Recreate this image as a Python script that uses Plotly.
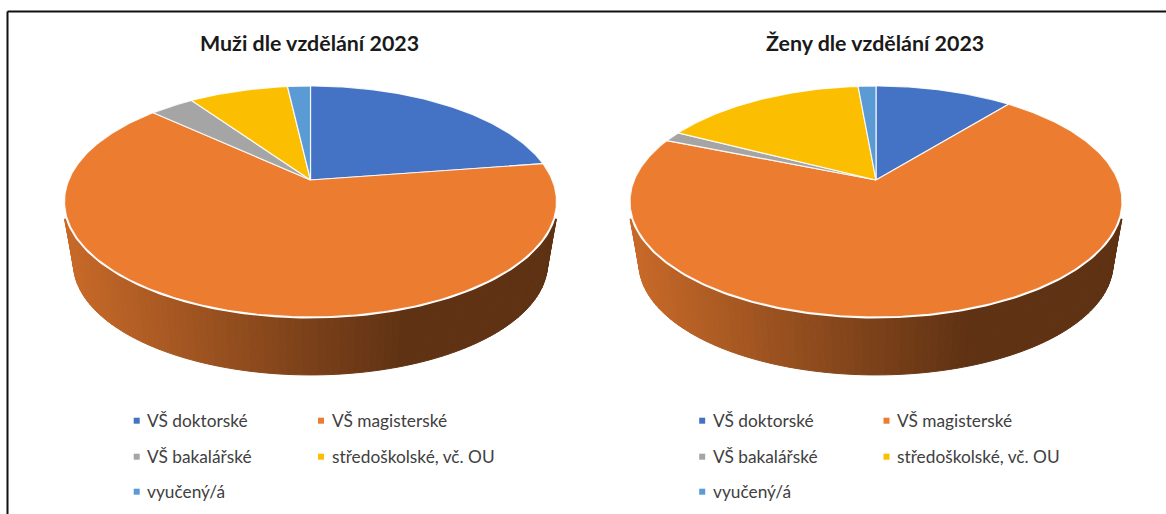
import math
import plotly.graph_objects as go

categories = ["VŠ doktorské", "VŠ magisterské", "VŠ bakalářské", "středoškolské, vč. OU", "vyučený/á"]
muzi_values = [22.6, 64.3, 3.5, 7.8, 1.8]
zeny_values = [10.8, 70.3, 1.4, 16.0, 1.4]
slice_colors = ["#4472C4", "#EB7C30", "#A5A5A5", "#FBBE00", "#5B9BD5"]
chart_titles = ["Muži dle vzdělání 2023", "Ženy dle vzdělání 2023"]

PERSP = -0.1861
SY = 78.0
CY = 180.0
SX = 241.7
VP_Y = 1900.0
DEPTH = 0.0366
WALL_TOP_LIMIT = 219.0
WALL_START = 203.0
TEXT_GRAY = "#404040"
FONT = "Lato"


def top_point(cx, deg):
    """Project a rim point given in degrees clockwise from 12 o'clock."""
    a = math.radians(deg)
    u, v = math.sin(a), -math.cos(a)
    d = 1 + PERSP * v
    return cx + SX * u / d, (SY * v + CY) / d


def bottom_point(cx, deg):
    x, y = top_point(cx, deg)
    return x + DEPTH * (cx - x), y + DEPTH * (VP_Y - y)


def shade(cx, x):
    f = (x - (cx - 246)) / 492
    stops = [(0.0, 0.85), (0.5, 0.52), (0.7, 0.40), (1.0, 0.40)]
    for (a, fa), (b, fb) in zip(stops, stops[1:]):
        if f <= b:
            return fa + (fb - fa) * max(0.0, (f - a)) / (b - a)
    return 0.40


def darker(hex_color, k):
    r, g, b = (int(hex_color[i:i + 2], 16) for i in (1, 3, 5))
    return f"rgb({round(r * k)},{round(g * k)},{round(b * k)})"


fig = go.Figure()
legend_annotations = []


def add_pie(cx, values):
    total = sum(values)
    edges = [0.0]
    for val in values:
        edges.append(edges[-1] + val / total * 360)

    # side wall, darkened per strip; its upper end is cut off level
    for i, col in enumerate(slice_colors):
        a = edges[i]
        while a < edges[i + 1]:
            b = min(a + 1.5, edges[i + 1])
            x0, y0 = top_point(cx, a)
            x1, y1 = top_point(cx, b)
            if y0 >= WALL_START and y1 >= WALL_START:
                bx0, by0 = bottom_point(cx, a)
                bx1, by1 = bottom_point(cx, b)
                y0c, y1c = max(y0, WALL_TOP_LIMIT), max(y1, WALL_TOP_LIMIT)
                c = darker(col, shade(cx, (x0 + x1) / 2))
                fig.add_trace(go.Scatter(
                    x=[x0, x1, bx1, bx0, x0], y=[y0c, y1c, by1, by0, y0c],
                    mode="lines", fill="toself", fillcolor=c,
                    line=dict(color=c, width=1.0),
                    hoverinfo="skip", showlegend=False))
            a = b

    # white rim between wall and top face
    rim_x, rim_y = [], []
    for k in range(0, 361):
        px, py = top_point(cx, k)
        if py >= WALL_START:
            rim_x.append(px)
            rim_y.append(py)
        else:
            rim_x.append(None)
            rim_y.append(None)
    fig.add_trace(go.Scatter(x=rim_x, y=rim_y, mode="lines",
                             line=dict(color="white", width=3.0),
                             hoverinfo="skip", showlegend=False))

    # top face
    for i, col in enumerate(slice_colors):
        xs, ys = [cx], [CY]
        n = max(2, int((edges[i + 1] - edges[i]) / 0.75))
        for k in range(n + 1):
            px, py = top_point(cx, edges[i] + (edges[i + 1] - edges[i]) * k / n)
            xs.append(px)
            ys.append(py)
        xs.append(cx)
        ys.append(CY)
        fig.add_trace(go.Scatter(
            x=xs, y=ys, mode="lines", fill="toself", fillcolor=col,
            line=dict(color="rgba(255,255,255,0.85)", width=1.2),
            name=categories[i], text=[f"{values[i]} %"] * len(xs),
            hoverinfo="name+text", showlegend=False))


def add_legend(cx):
    dx = cx - 310.5
    cols = [136.7 + dx, 321.0 + dx]
    rows = [420.7, 456.7, 491.7]
    for i, name in enumerate(categories):
        x, y = cols[i % 2], rows[i // 2]
        fig.add_trace(go.Scatter(
            x=[x], y=[y], mode="markers",
            marker=dict(symbol="square", size=6, color=slice_colors[i], line=dict(width=0)),
            name=name, hoverinfo="name", showlegend=False))
        legend_annotations.append(dict(
            x=x + 8.5, y=y, xref="x", yref="y", text=name, showarrow=False,
            xanchor="left", yanchor="middle",
            font=dict(family=FONT, size=17.3, color=TEXT_GRAY)))


centers = [310.5, 876.0]
for cx, vals in zip(centers, [muzi_values, zeny_values]):
    add_pie(cx, vals)
    add_legend(cx)

annotations = [
    dict(x=c, y=43, xref="x", yref="y", text=f"<b>{t}</b>", showarrow=False,
         font=dict(family=FONT, size=21.4, color="#1a1a1a"))
    for c, t in zip([309.5, 875.0], chart_titles)
] + legend_annotations

fig.update_layout(
    width=1166, height=514, margin=dict(l=0, r=0, t=0, b=0),
    paper_bgcolor="white", plot_bgcolor="white", showlegend=False,
    xaxis=dict(range=[0, 1166], visible=False, fixedrange=True),
    yaxis=dict(range=[514, 0], visible=False, fixedrange=True),
    annotations=annotations,
    shapes=[
        dict(type="line", xref="x", yref="y", x0=7.5, y0=11.5, x1=1166, y1=11.5,
             line=dict(color="#111111", width=2)),
        dict(type="line", xref="x", yref="y", x0=7.5, y0=11.5, x1=7.5, y1=514,
             line=dict(color="#111111", width=2)),
    ],
)

fig.write_html("out.html", config={"displayModeBar": False},
               post_script="document.body.style.margin='0';document.body.style.overflow='hidden';")
